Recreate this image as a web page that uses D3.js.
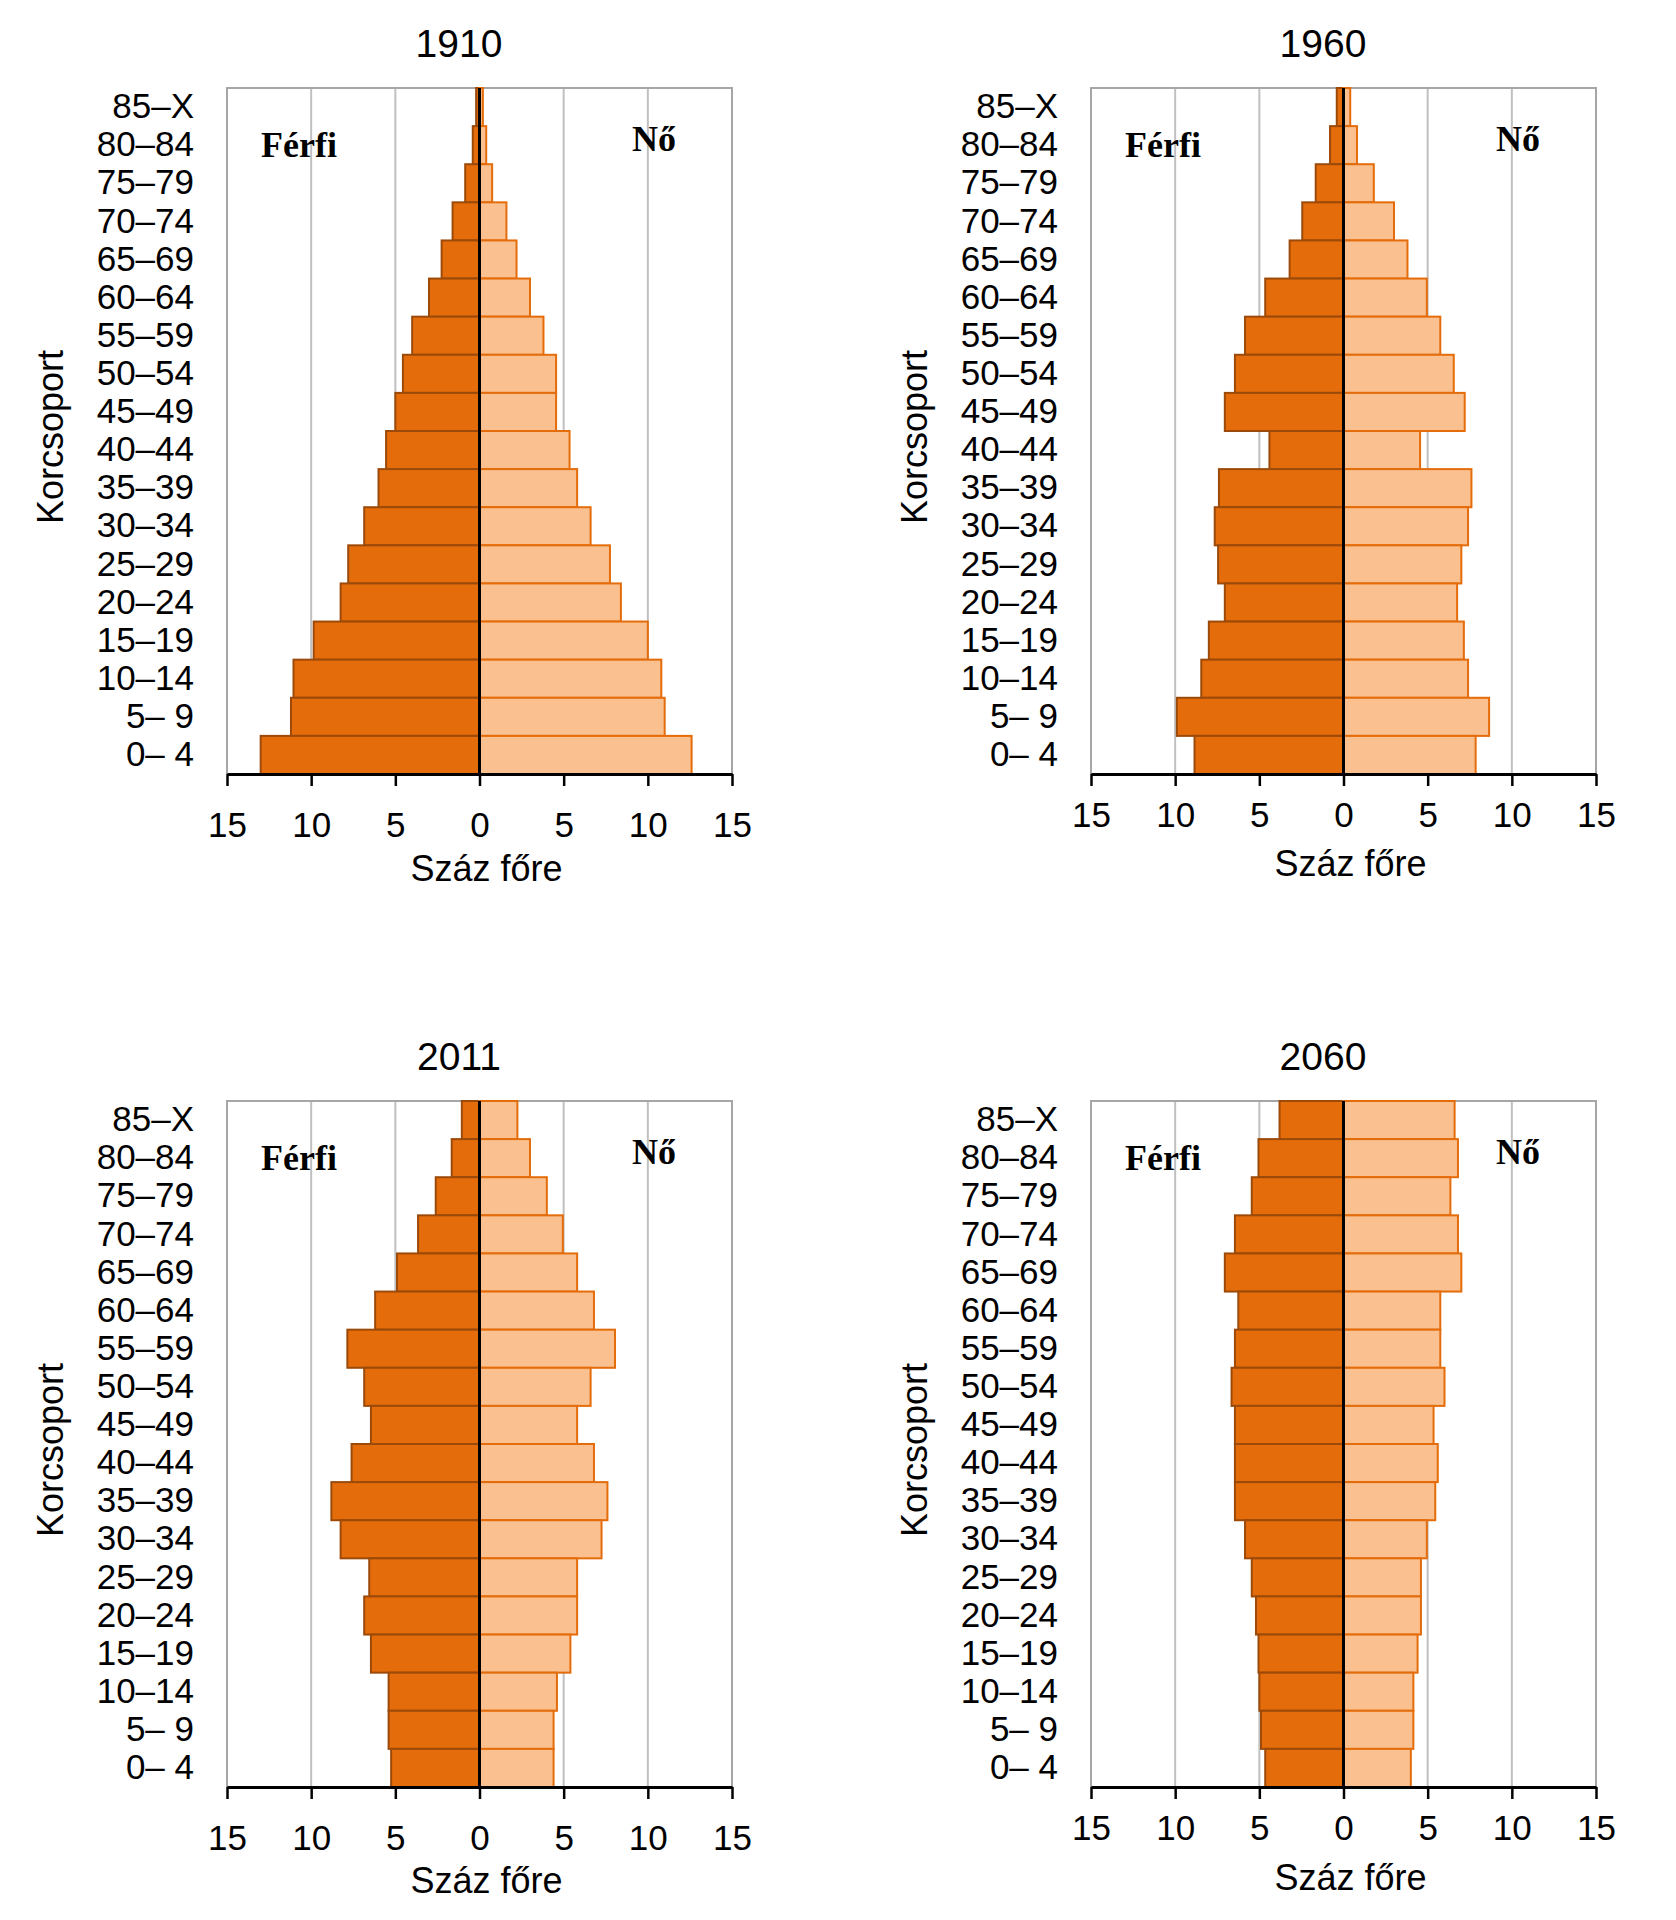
<!DOCTYPE html>
<html>
<head>
<meta charset="utf-8">
<script src="https://cdn.jsdelivr.net/npm/d3@7"></script>
<style>
  body { margin: 0; background: #fff; }
  text { font-family: "Liberation Sans", Arial, sans-serif; fill: #000; }
</style>
</head>
<body>
<div id="app"></div>
<script>
// age groups, top to bottom
var ageGroups = ['85–X','80–84','75–79','70–74','65–69','60–64','55–59','50–54','45–49',
                 '40–44','35–39','30–34','25–29','20–24','15–19','10–14','5– 9','0– 4'];

var male1910   = [0.2,0.4,0.85,1.6,2.25,3.0,4.0,4.55,5.0,5.55,6.0,6.85,7.8,8.25,9.85,11.05,11.2,13.0];
var female1910 = [0.2,0.4,0.75,1.6,2.2,3.0,3.8,4.55,4.55,5.35,5.8,6.6,7.75,8.4,10.0,10.8,11.0,12.6];

var male1960   = [0.4,0.8,1.65,2.45,3.2,4.65,5.85,6.45,7.05,4.4,7.4,7.65,7.45,7.05,8.0,8.45,9.9,8.85];
var female1960 = [0.4,0.8,1.8,3.0,3.8,4.95,5.75,6.55,7.2,4.55,7.6,7.4,7.0,6.75,7.15,7.4,8.65,7.85];

var male2011   = [1.05,1.65,2.6,3.65,4.9,6.2,7.85,6.85,6.45,7.6,8.8,8.25,6.55,6.85,6.45,5.4,5.4,5.25];
var female2011 = [2.25,3.0,4.0,4.95,5.8,6.8,8.05,6.6,5.8,6.8,7.6,7.25,5.8,5.8,5.4,4.6,4.4,4.4];

var male2060   = [3.8,5.05,5.45,6.45,7.05,6.25,6.45,6.65,6.45,6.45,6.45,5.85,5.45,5.2,5.05,5.0,4.9,4.65];
var female2060 = [6.6,6.8,6.35,6.8,7.0,5.75,5.75,6.0,5.35,5.6,5.45,4.95,4.6,4.6,4.4,4.15,4.15,4.0];

var xTicks = [-15,-10,-5,0,5,10,15];
var gridTicks = [-10,-5,5,10];

// panel placement
var panels = [
  {year:'1910', male:male1910, female:female1910, left:227,  top:88,   tickPad:26, xlab:107},
  {year:'1960', male:male1960, female:female1960, left:1091, top:88,   tickPad:16, xlab:102},
  {year:'2011', male:male2011, female:female2011, left:227,  top:1101, tickPad:26, xlab:106},
  {year:'2060', male:male2060, female:female2060, left:1091, top:1101, tickPad:16, xlab:103}
];

var width = 505, height = 686;

var svg = d3.select('#app')
  .append('svg')
    .attr('width',1676)
    .attr('height',1920);

svg.append('rect')
    .attr('width',1676)
    .attr('height',1920)
    .attr('fill','#fff');

var x = d3.scaleLinear().domain([-15,15]).range([0,width]);
var y = d3.scaleBand().domain(ageGroups).range([0,height]).padding(0);

panels.forEach(function(p){
    var g = svg.append('g')
        .attr('transform','translate('+p.left+','+p.top+')');

    // gridlines
    g.selectAll('line.grid')
        .data(gridTicks)
      .enter().append('line')
        .attr('class','grid')
        .attr('x1',function(d){return x(d)})
        .attr('x2',function(d){return x(d)})
        .attr('y1',0)
        .attr('y2',height)
        .attr('stroke','#c0c0c0')
        .attr('stroke-width',2);

    // plot frame
    g.append('path')
        .attr('d','M0,'+height+'V0H'+width+'V'+height)
        .attr('fill','none')
        .attr('stroke','#a6a6a6')
        .attr('stroke-width',2);

    // men
    g.selectAll('rect.male')
        .data(p.male)
      .enter().append('rect')
        .attr('class','male')
        .attr('x',function(d){return x(-d)})
        .attr('width',function(d){return x(0)-x(-d)})
        .attr('y',function(d,i){return y(ageGroups[i])})
        .attr('height',y.bandwidth())
        .attr('fill','#e46c0a')
        .attr('stroke','#9c4a0a')
        .attr('stroke-width',2);

    // women
    g.selectAll('rect.female')
        .data(p.female)
      .enter().append('rect')
        .attr('class','female')
        .attr('x',x(0))
        .attr('width',function(d){return x(d)-x(0)})
        .attr('y',function(d,i){return y(ageGroups[i])})
        .attr('height',y.bandwidth())
        .attr('fill','#fac090')
        .attr('stroke','#e46c0a')
        .attr('stroke-width',2);

    // zero line
    g.append('line')
        .attr('x1',x(0))
        .attr('x2',x(0))
        .attr('y1',0)
        .attr('y2',height)
        .attr('stroke','#000')
        .attr('stroke-width',3);

    // x axis
    var ax = g.append('g')
        .attr('transform','translate(0,'+height+')')
        .call(d3.axisBottom(x)
            .tickValues(xTicks)
            .tickFormat(function(d){return Math.abs(d)})
            .tickSize(12)
            .tickSizeOuter(0)
            .tickPadding(p.tickPad));
    ax.select('.domain').attr('stroke','#000').attr('stroke-width',3);
    ax.selectAll('.tick line').attr('stroke','#000').attr('stroke-width',2.5);
    ax.selectAll('.tick text')
        .attr('fill','#000')
        .style('font-size','35px')
        .style('font-family','"Liberation Sans", Arial, sans-serif');

    // age labels
    g.selectAll('text.age')
        .data(ageGroups)
      .enter().append('text')
        .attr('class','age')
        .attr('x',-33)
        .attr('y',function(d){return y(d)+y.bandwidth()/2})
        .attr('dy','0.32em')
        .style('text-anchor','end')
        .style('font-size','35px')
        .text(function(d){return d});

    g.append('text')
        .attr('transform','translate(-164,'+(height/2+6)+') rotate(-90)')
        .style('text-anchor','middle')
        .style('font-size','36px')
        .text('Korcsoport');

    g.append('text')
        .attr('x',34)
        .attr('y',69)
        .style('font-family','"Liberation Serif", "Times New Roman", serif')
        .style('font-weight','bold')
        .style('font-size','36px')
        .text('Férfi');

    g.append('text')
        .attr('x',width-100)
        .attr('y',63)
        .style('font-family','"Liberation Serif", "Times New Roman", serif')
        .style('font-weight','bold')
        .style('font-size','36px')
        .text('Nő');

    g.append('text')
        .attr('x',232)
        .attr('y',-31)
        .style('text-anchor','middle')
        .style('font-size','39px')
        .text(p.year);

    g.append('text')
        .attr('x',width/2+7)
        .attr('y',height+p.xlab)
        .style('text-anchor','middle')
        .style('font-size','36px')
        .text('Száz főre');
});
</script>
</body>
</html>
